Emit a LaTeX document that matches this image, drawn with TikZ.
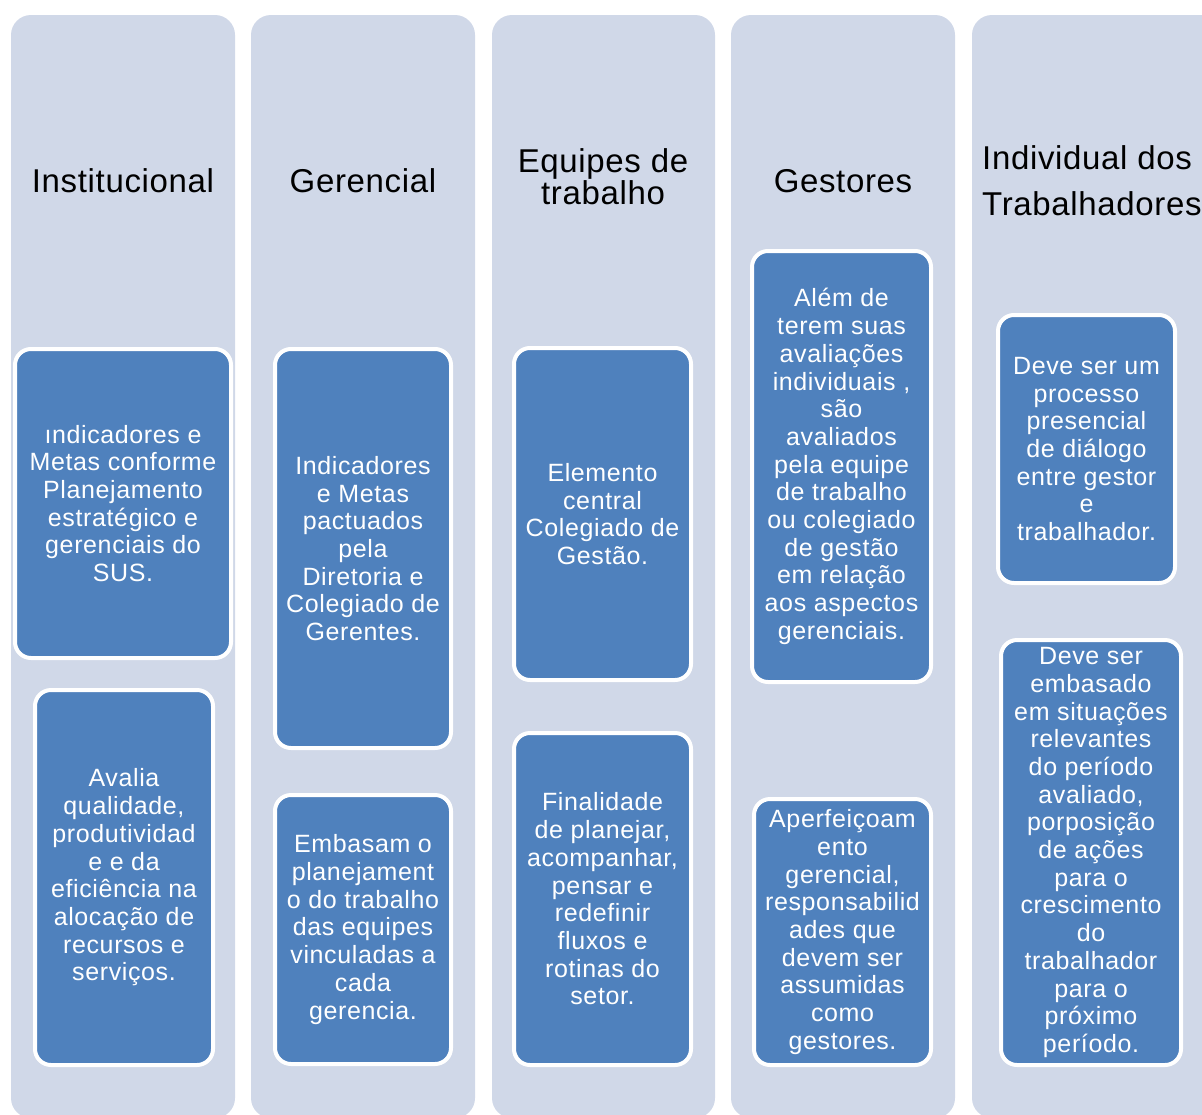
\documentclass[tikz,border=0pt]{standalone}
\usepackage{fontspec}
\setmainfont{Liberation Sans}
\newfontfamily\headfont[LetterSpace=2]{Liberation Sans}
\newfontfamily\bodyfont[LetterSpace=2.5]{Liberation Sans}
\definecolor{colbg}{HTML}{D0D8E8}
\definecolor{boxblue}{HTML}{4F81BD}
\tikzset{
  column/.style={fill=colbg, rounded corners=20pt},
  card/.style={draw=white, line width=4pt, fill=boxblue, rounded corners=16pt,
    text=white, align=center, inner sep=0pt,
    font=\bodyfont\fontsize{25}{27.7}\selectfont},
  title/.style={text=black, align=center, inner sep=0pt, anchor=base,
    font=\headfont\fontsize{33}{32}\selectfont},
}
\begin{document}
\begin{tikzpicture}[x=1pt, y=-1pt]
  \fill[white] (0,0) rectangle (1202,1114);
  \useasboundingbox (0,0) rectangle (1202,1114);
  \clip (0,0) rectangle (1202,1114);

  % column backgrounds
  \fill[column] (11,15) rectangle (235,1118);
  \fill[column] (251,15) rectangle (475,1118);
  \fill[column] (492,15) rectangle (715,1118);
  \fill[column] (731,15) rectangle (955,1118);
  \fill[column] (972,15) rectangle (1222,1118);

  % column titles (base anchor sits on the last line)
  \node[title] (t1) at (123,192) {Institucional};
  \node[title] (t2) at (363,192) {Gerencial};
  \node[title] (t3) at (603,204) {Equipes de\\trabalho};
  \node[title] (t4) at (843,192) {Gestores};
  \node[title, align=left, anchor=base west, font=\headfont\fontsize{33}{46}\selectfont]
    (t5) at (982,215) {Individual dos\\Trabalhadores};

  % Institucional
  \node[card, minimum width=216pt, minimum height=309pt] (c1a) at (123,503.5)
    {ındicadores e\\Metas conforme\\Planejamento\\estratégico e\\gerenciais do\\SUS.};
  \node[card, minimum width=178pt, minimum height=375pt] (c1b) at (124,877.5)
    {Avalia\\qualidade,\\produtividad\\e e da\\eficiência na\\alocação de\\recursos e\\serviços.};

  % Gerencial
  \node[card, minimum width=176pt, minimum height=399pt] (c2a) at (363,548.5)
    {Indicadores\\e Metas\\pactuados\\pela\\Diretoria e\\Colegiado de\\Gerentes.};
  \node[card, minimum width=176pt, minimum height=269pt] (c2b) at (363,929.5)
    {Embasam o\\planejament\\o do trabalho\\das equipes\\vinculadas a\\cada\\gerencia.};

  % Equipes de trabalho
  \node[card, minimum width=177pt, minimum height=332pt] (c3a) at (602.5,514)
    {Elemento\\central\\Colegiado de\\Gestão.};
  \node[card, minimum width=177pt, minimum height=332pt] (c3b) at (602.5,899)
    {Finalidade\\de planejar,\\acompanhar,\\pensar e\\redefinir\\fluxos e\\rotinas do\\setor.};

  % Gestores
  \node[card, minimum width=179pt, minimum height=431pt] (c4a) at (841.5,466.5)
    {Além de\\terem suas\\avaliações\\individuais ,\\são\\avaliados\\pela equipe\\de trabalho\\ou colegiado\\de gestão\\em relação\\aos aspectos\\gerenciais.};
  \node[card, minimum width=177pt, minimum height=266pt] (c4b) at (842.5,932)
    {Aperfeiçoam\\ento\\gerencial,\\responsabilid\\ades que\\devem ser\\assumidas\\como\\gestores.};

  % Individual dos Trabalhadores
  \node[card, minimum width=177pt, minimum height=268pt] (c5a) at (1086.5,449)
    {Deve ser um\\processo\\presencial\\de diálogo\\entre gestor\\e\\trabalhador.};
  \node[card, minimum width=180pt, minimum height=425pt] (c5b) at (1091,852.5)
    {Deve ser\\embasado\\em situações\\relevantes\\do período\\avaliado,\\porposição\\de ações\\para o\\crescimento\\do\\trabalhador\\para o\\próximo\\período.};
\end{tikzpicture}
\end{document}
